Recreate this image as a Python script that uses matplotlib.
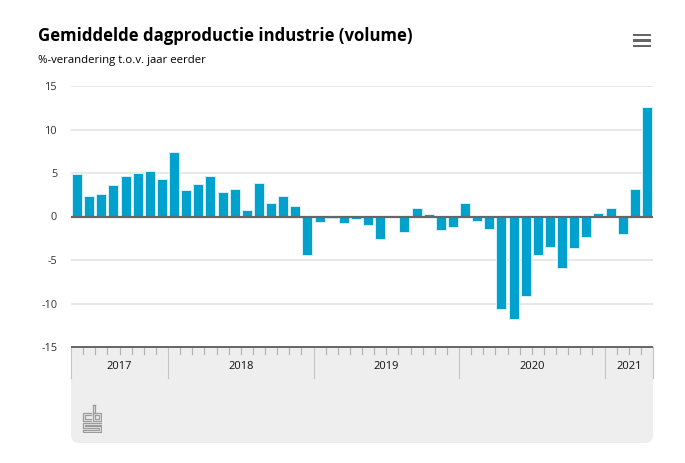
import matplotlib
matplotlib.use("Agg")
import matplotlib.pyplot as plt
from matplotlib.patches import FancyBboxPatch, Rectangle
import numpy as np

# ---- data ----
months = [f"{y}-{m:02d}" for y, m in
          [(2017, m) for m in range(5, 13)] +
          [(2018, m) for m in range(1, 13)] +
          [(2019, m) for m in range(1, 13)] +
          [(2020, m) for m in range(1, 13)] +
          [(2021, m) for m in range(1, 5)]]
values = [4.9, 2.3, 2.6, 3.6, 4.7, 5.0, 5.2, 4.3,
          7.4, 3.1, 3.7, 4.6, 2.8, 3.2, 0.8, 3.9, 1.6, 2.3, 1.2, -4.4,
          -0.6, -0.2, -0.8, -0.3, -1.0, -2.6, 0.0, -1.8, 1.0, 0.3, -1.6, -1.2,
          1.6, -0.5, -1.4, -10.6, -11.8, -9.1, -4.4, -3.5, -5.9, -3.6, -2.3, 0.4,
          1.0, -2.0, 3.2, 12.6]
years = ["2017", "2018", "2019", "2020", "2021"]
yticks = [-15, -10, -5, 0, 5, 10, 15]

title = "Gemiddelde dagproductie industrie (volume)"
subtitle = "%-verandering t.o.v. jaar eerder"

W, H = 685, 463
fig = plt.figure(figsize=(W / 100, H / 100), dpi=100)
fig.patch.set_facecolor("white")

def fx(px):
    return px / W

def fy(py):
    return 1 - py / H

L, R, T, B = 71, 653, 86, 347
ax = fig.add_axes([fx(L), fy(B), fx(R) - fx(L), fy(T) - fy(B)])
x = np.arange(len(values))
ax.set_xlim(-0.5, len(values) - 0.5)
ax.set_ylim(-15, 15)
ax.patch.set_alpha(0)
for yv in yticks:
    if yv not in (0, -15):
        ax.axhline(yv, color="#e8e8e8", lw=1.4, zorder=0)
ax.bar(x, values, width=0.82, color="#00a1cd", edgecolor="#d6f1f8",
       linewidth=0.7, zorder=2)
ax.axhline(0, color="#666666", lw=1.6, zorder=3)
for s in ax.spines.values():
    s.set_visible(False)
ax.set_xticks([])
ax.set_yticks(yticks)
ax.set_yticklabels([str(v) for v in yticks], fontsize=7.8, color="#333333",
                   family="Open Sans")
ax.tick_params(axis="y", length=0, pad=10)
for lbl in ax.get_yticklabels():
    lbl.set_horizontalalignment("right")

# ---- category band ----
band_bottom = 443
fig.patches.append(FancyBboxPatch((L / 100, (H - band_bottom) / 100),
                                  (R - L) / 100, (band_bottom - B) / 100,
                                  boxstyle="round,pad=0,rounding_size=0.08",
                                  transform=fig.dpi_scale_trans,
                                  facecolor="#eeeeee", edgecolor="none", zorder=-5))
fig.patches.append(Rectangle((L / 100, (H - 400) / 100), (R - L) / 100,
                             (400 - B) / 100, transform=fig.dpi_scale_trans,
                             facecolor="#eeeeee", edgecolor="none", zorder=-5))

bx = fig.add_axes([fx(L), fy(band_bottom), fx(R) - fx(L), fy(B) - fy(band_bottom)])
bx.set_xlim(-0.5, len(values) - 0.5)
bx.set_ylim(band_bottom - B, 0)
bx.axis("off")
bx.patch.set_alpha(0)
year_of = [m[:4] for m in months]
bounds = [-0.5]
for i in range(1, len(months)):
    if year_of[i] != year_of[i - 1]:
        bounds.append(i - 0.5)
bounds.append(len(months) - 0.5)
for i in range(1, len(months)):
    b = i - 0.5
    if b not in bounds:
        bx.plot([b, b], [0, 7], color="#b0b0b0", lw=0.8, clip_on=False)
for b in bounds:
    bx.plot([b, b], [0, 31], color="#c4c4c4", lw=0.8, clip_on=False)
for k, yr in enumerate(years):
    c = (bounds[k] + bounds[k + 1]) / 2
    bx.text(c, 19.5, yr, ha="center", va="center", fontsize=8, color="#111111",
            family="Open Sans")
bx.plot([-0.5, len(values) - 0.5], [0, 0], color="#666666", lw=1.4,
        solid_capstyle="butt", clip_on=False)

# ---- cbs logo (simple outline drawing) ----
lg = fig.add_axes([fx(82), fy(433), fx(20), fy(0) - fy(29)])
lg.set_xlim(0, 18)
lg.set_ylim(29, 0)
lg.axis("off")
lg.patch.set_alpha(0)
gc = "#9a9a9a"
lw = 0.9
# c
lg.plot([8, 1, 1, 8], [9, 9, 17, 17], color=gc, lw=lw)
lg.plot([8, 3, 3, 8], [11, 11, 15, 15], color=gc, lw=lw)
# b
lg.plot([10, 10, 17, 17, 10], [1, 17, 17, 9, 9], color=gc, lw=lw)
lg.plot([12, 12], [1, 9], color=gc, lw=lw)
lg.plot([10, 12], [1, 1], color=gc, lw=lw)
lg.plot([12, 15, 15, 12, 12], [11, 11, 15, 15, 11], color=gc, lw=lw)
# s
lg.plot([17, 1, 1, 15, 15, 1], [19, 19, 24, 24, 26, 26], color=gc, lw=lw)
lg.plot([17, 3, 3, 17, 17, 1, 1], [21, 21, 22, 22, 28, 28, 26], color=gc, lw=lw)

# ---- titles ----
fig.text(fx(38), fy(36), title, fontsize=12.1, fontweight="bold", color="#000000",
         va="center", ha="left", family="Open Sans")
fig.text(fx(38), fy(60), subtitle, fontsize=8.2, color="#000000",
         va="center", ha="left", family="Open Sans")

# ---- menu icon ----
for yy in (35, 40.5, 46):
    fig.patches.append(Rectangle((633 / 100, (H - yy - 1.4) / 100), 17.5 / 100, 2.8 / 100,
                                 transform=fig.dpi_scale_trans,
                                 facecolor="#666666", edgecolor="none"))

fig.savefig("out.png", dpi=100)
